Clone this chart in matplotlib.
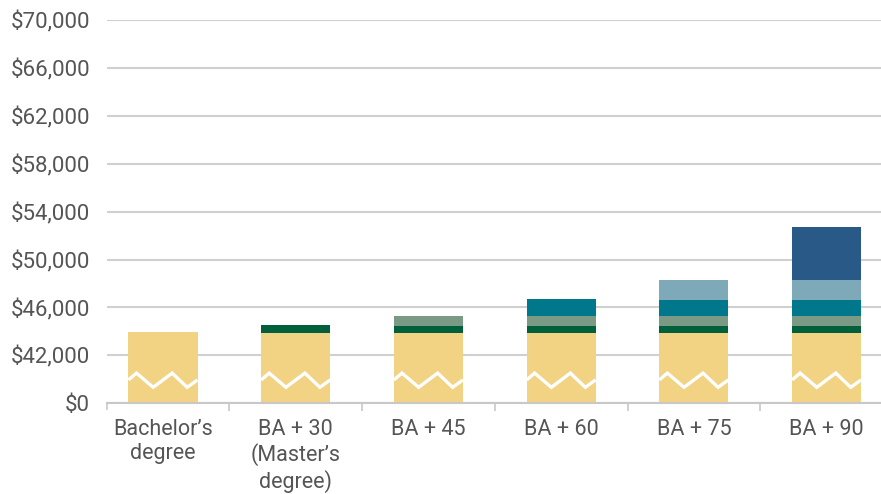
import numpy as np
import matplotlib
matplotlib.use("Agg")
import matplotlib.pyplot as plt
from matplotlib.ticker import FixedLocator, FixedFormatter

categories = ["Bachelor\u2019s\ndegree", "BA + 30\n(Master\u2019s\ndegree)", "BA + 45",
              "BA + 60", "BA + 75", "BA + 90"]
base = [43940, 43850, 43850, 43850, 43850, 43850]
step30 = [0, 684, 590, 590, 590, 590]
step45 = [0, 0, 830, 830, 830, 830]
step60 = [0, 0, 0, 1420, 1330, 1330]
step75 = [0, 0, 0, 0, 1660, 1660]
step90 = [0, 0, 0, 0, 0, 4490]
ytick_values = [0, 42000, 46000, 50000, 54000, 58000, 62000, 66000, 70000]
ytick_labels = ["$0", "$42,000", "$46,000", "$50,000", "$54,000", "$58,000",
                "$62,000", "$66,000", "$70,000"]
break_value = 42000

series = [step30, step45, step60, step75, step90]
colors = ["#F2D383", "#00603C", "#7A9A86", "#00778B", "#7EA9B9", "#285987"]

plt.rcParams['font.family'] = ['Roboto', 'DejaVu Sans']
text_color = "#555555"

fig = plt.figure(figsize=(8.81, 4.94), dpi=100)
ax = fig.add_axes([106.6 / 881, 1 - 403.3 / 494, 1 - 106.6 / 881, (403.3 - 20) / 494])

def fwd(v):
    v = np.asarray(v, dtype=float)
    return np.where(v <= break_value, v / break_value * 4000.0, v - (break_value - 4000.0))

def inv(u):
    u = np.asarray(u, dtype=float)
    return np.where(u <= 4000.0, u / 4000.0 * break_value, u + (break_value - 4000.0))

ax.set_yscale('function', functions=(fwd, inv))

x = np.arange(len(categories))
width = 0.52
ax.bar(x, base, width=width, color=colors[0], zorder=2)
bottom = np.array(base, dtype=float)
for s, c in zip(series, colors[1:]):
    s = np.array(s, dtype=float)
    mask = s > 0
    ax.bar(x[mask], s[mask], width=width, bottom=bottom[mask], color=c, zorder=2)
    bottom = bottom + s

# break marker (zigzag) on each bar
fr = np.array([0, 0.116, 0.358, 0.633, 0.85, 1.0])
zy = np.array([20500, 26500, 14000, 26500, 14000, 20500])
for xi in x:
    ax.plot(xi - width / 2 + fr * width, zy, color="white", lw=2.4, zorder=3,
            solid_joinstyle='miter', solid_capstyle='butt')

ax.set_ylim(0, 70000)
ax.set_xlim(-0.425, 5.41)

ax.yaxis.set_major_locator(FixedLocator(ytick_values))
ax.yaxis.set_major_formatter(FixedFormatter(ytick_labels))
ax.grid(axis='y', color="#d0d0d0", lw=1.5, zorder=0)
ax.set_axisbelow(True)

ax.set_xticks(x)
ax.set_xticklabels(categories, linespacing=1.2)
ax.set_xticks(np.arange(len(categories) - 1) + 0.5, minor=True)
ax.tick_params(axis='x', which='major', length=0, pad=11, labelsize=15.5, colors=text_color)
ax.tick_params(axis='x', which='minor', length=6, width=1.2, color="#c8c8c8")
ax.tick_params(axis='y', length=0, pad=12, labelsize=16, colors=text_color)

for sp in ['top', 'right', 'left']:
    ax.spines[sp].set_visible(False)
ax.spines['bottom'].set_color("#c8c8c8")
ax.spines['bottom'].set_linewidth(1.5)
ax.axvline(-0.425, ymin=-6 / 383.3, ymax=0, color="#c8c8c8", lw=1.2, clip_on=False)

fig.savefig("out.png", dpi=100)
